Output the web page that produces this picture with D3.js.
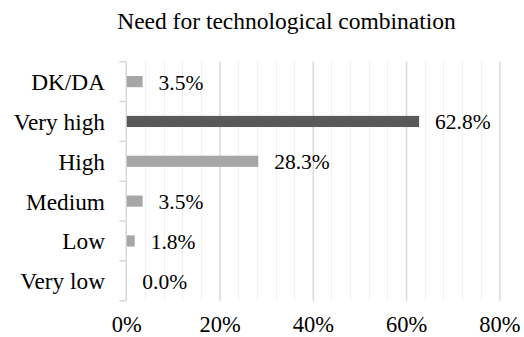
<!DOCTYPE html>
<html>
<head>
<meta charset="utf-8">
<script src="https://cdn.jsdelivr.net/npm/d3@7"></script>
<style>
  html, body { margin: 0; padding: 0; background: #fff; }
  svg { display: block; }
  svg text { font-family: "Liberation Serif", "Times New Roman", serif; }
</style>
</head>
<body>
<svg id="chart" width="524" height="337"></svg>
<script>
// Survey responses: need for technological combination
const categories = ["DK/DA", "Very high", "High", "Medium", "Low", "Very low"];
const shares = [3.5, 62.8, 28.3, 3.5, 1.8, 0.0];
const highlighted = ["Very high"];
const xTickValues = [0, 20, 40, 60, 80];
const minorTickValues = d3.range(4, 80, 4).filter(v => v % 20 !== 0);
const title = "Need for technological combination";

const width = 524, height = 337;
const margin = { top: 61.7, right: 25, bottom: 36.3, left: 126.3 };

const svg = d3.select("#chart");

const x = d3.scaleLinear()
  .domain([0, 80])
  .range([margin.left, 499.3]);

const y = d3.scaleBand()
  .domain(categories)
  .range([margin.top, height - margin.bottom])
  .paddingInner(0.72)
  .paddingOuter(0.36);

// Band boundaries used for category separators
const bandStep = (height - margin.bottom - margin.top) / categories.length;

// Title
svg.append("text")
  .attr("x", 286.5)
  .attr("y", 28.5)
  .attr("text-anchor", "middle")
  .attr("font-size", 23.5)
  .attr("fill", "#000")
  .text(title);

// Minor gridlines
svg.append("g")
  .selectAll("line")
  .data(minorTickValues)
  .join("line")
  .attr("x1", d => Math.round(x(d)) + 0.5)
  .attr("x2", d => Math.round(x(d)) + 0.5)
  .attr("y1", margin.top)
  .attr("y2", height - margin.bottom)
  .attr("stroke", "#f0f0f0")
  .attr("stroke-width", 1);

// Major gridlines + x tick labels via axis
const xAxis = d3.axisBottom(x)
  .tickValues(xTickValues)
  .tickSize(-(height - margin.bottom - margin.top))
  .tickFormat(d => d + "%");

const gx = svg.append("g")
  .attr("transform", `translate(0,${height - margin.bottom})`)
  .call(xAxis)
  .attr("font-family", null);
gx.select(".domain").remove();
gx.selectAll(".tick line")
  .attr("stroke", "#d9d9d9")
  .attr("stroke-width", 1.5)
  .filter(d => d === 0).remove();
gx.selectAll(".tick text")
  .attr("y", 31)
  .attr("dy", 0)
  .attr("font-size", 22.5)
  .attr("fill", "#000");

// Category axis line with separators between categories
const gy = svg.append("g");
gy.append("line")
  .attr("x1", x(0)).attr("x2", x(0))
  .attr("y1", margin.top).attr("y2", height - margin.bottom)
  .attr("stroke", "#d9d9d9").attr("stroke-width", 1.5);
gy.selectAll("line.sep")
  .data(d3.range(categories.length + 1))
  .join("line")
  .attr("class", "sep")
  .attr("x1", x(0) - 7).attr("x2", x(0))
  .attr("y1", i => margin.top + i * bandStep)
  .attr("y2", i => margin.top + i * bandStep)
  .attr("stroke", "#d9d9d9").attr("stroke-width", 1.5);

gy.selectAll("text")
  .data(categories)
  .join("text")
  .attr("x", 105)
  .attr("y", d => y(d) + y.bandwidth() / 2 + 8.5)
  .attr("text-anchor", "end")
  .attr("font-size", 23.3)
  .attr("fill", "#000")
  .text(d => d);

// Bars
svg.append("g")
  .selectAll("rect")
  .data(categories.map((c, i) => ({ c, v: shares[i] })))
  .join("rect")
  .attr("x", x(0) + 0.5)
  .attr("y", d => y(d.c))
  .attr("width", d => Math.max(0, x(d.v) - x(0) - 0.5))
  .attr("height", y.bandwidth())
  .attr("fill", d => highlighted.includes(d.c) ? "#595959" : "#a6a6a6");

// Value labels
svg.append("g")
  .selectAll("text")
  .data(categories.map((c, i) => ({ c, v: shares[i] })))
  .join("text")
  .attr("x", d => x(d.v) + 16)
  .attr("y", d => y(d.c) + y.bandwidth() / 2 + 8)
  .attr("font-size", 21.5)
  .attr("fill", "#000")
  .text(d => d.v.toFixed(1) + "%");
</script>
</body>
</html>
